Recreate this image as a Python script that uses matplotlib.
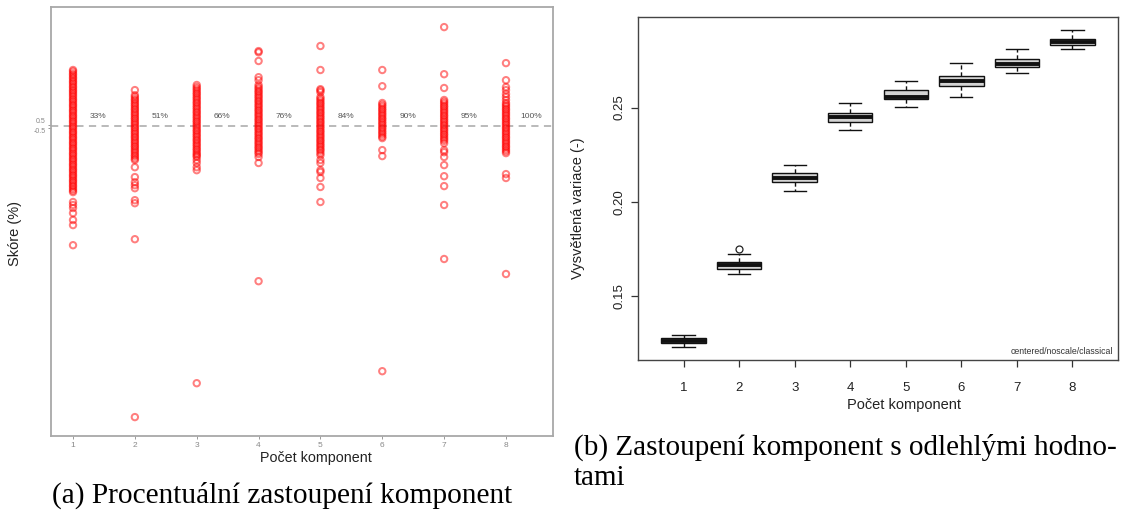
import matplotlib
matplotlib.use("Agg")
import matplotlib.pyplot as plt
import numpy as np

# ---------------- data ----------------
components = [1, 2, 3, 4, 5, 6, 7, 8]
cum_labels = ["33%", "51%", "66%", "76%", "84%", "90%", "95%", "100%"]

scores_1 = [18.7, 18.2, 17.5, 17.0, 16.3, 15.8, 15.1, 14.6, 14.0, 13.3, 12.8, 12.1, 11.6, 11.0,
            10.4, 9.8, 9.1, 8.6, 8.0, 7.3, 6.8, 6.2, 5.5, 5.0, 4.4, 3.7, 3.2, 2.6, 1.9, 1.4, 0.8,
            0.1, -0.4, -1.0, -1.7, -2.2, -2.8, -3.5, -4.0, -4.6, -5.3, -5.8, -6.4, -7.1, -7.6,
            -8.2, -8.9, -9.4, -10.0, -10.7, -11.2, -11.8, -12.5, -13.0, -13.6, -14.3, -14.8,
            -15.4, -16.1, -16.6, -17.2, -17.9, -18.4, -19.0, -19.7, -20.2, -20.9, -21.5, -22.0,
            -25.3, -26.3, -27.3, -29.0, -31.3, -33.0, -39.7]
scores_2 = [12.0, 10.3, 9.7, 9.0, 8.5, 7.8, 7.2, 6.6, 5.9, 5.4, 4.7, 4.1, 3.5, 2.8, 2.3, 1.6,
            1.0, 0.4, -0.3, -0.8, -1.5, -2.1, -2.7, -3.4, -3.9, -4.6, -5.2, -5.8, -6.5, -7.0,
            -7.7, -8.3, -8.9, -9.6, -10.1, -10.8, -11.3, -13.7, -17.0, -18.7, -19.7, -20.7,
            -24.7, -25.7, -37.7, -97.0]
scores_3 = [13.7, 13.0, 12.4, 11.8, 11.1, 10.6, 9.9, 9.3, 8.7, 8.0, 7.5, 6.8, 6.2, 5.6, 4.9,
            4.4, 3.7, 3.1, 2.5, 1.8, 1.3, 0.6, 0.0, -0.6, -1.3, -1.8, -2.5, -3.1, -3.7, -4.4,
            -4.9, -5.6, -6.2, -6.8, -7.5, -8.0, -8.7, -9.3, -9.8, -10.3, -11.3, -12.3, -13.7,
            -14.7, -85.7]
scores_4 = [25.0, 24.6, 21.7, 16.3, 15.3, 13.7, 13.0, 12.4, 11.7, 11.2, 10.5, 9.9, 9.3, 8.6,
            8.1, 7.4, 6.8, 6.2, 5.5, 5.0, 4.3, 3.7, 3.1, 2.4, 1.9, 1.2, 0.6, 0.0, -0.7, -1.2,
            -1.9, -2.5, -3.1, -3.8, -4.3, -5.0, -5.6, -6.2, -6.9, -7.4, -8.1, -8.7, -9.3, -10.3,
            -12.3, -51.7]
scores_5 = [26.7, 18.7, 12.3, 11.9, 11.3, 9.7, 9.1, 8.5, 7.8, 7.3, 6.6, 6.0, 5.4, 4.7, 4.2,
            3.5, 2.9, 2.3, 1.6, 1.1, 0.4, -0.2, -0.8, -1.5, -2.0, -2.7, -3.3, -3.9, -4.6, -5.1,
            -5.8, -6.4, -7.0, -7.7, -8.2, -9.0, -9.7, -11.3, -12.3, -14.7, -15.3, -17.3, -20.3,
            -25.3]
scores_6 = [18.7, 13.3, 7.7, 7.1, 6.5, 5.8, 5.3, 4.6, 4.0, 3.4, 2.7, 2.2, 1.5, 0.9, 0.3, -0.4,
            -0.9, -1.6, -2.2, -2.8, -3.5, -4.0, -8.0, -10.0, -81.7]
scores_7 = [33.0, 17.3, 12.7, 8.7, 8.1, 7.5, 6.8, 6.3, 5.6, 5.0, 4.4, 3.7, 3.2, 2.5, 1.9, 1.3,
            0.6, 0.1, -0.6, -1.2, -1.8, -2.5, -3.0, -3.7, -4.3, -4.9, -5.7, -8.0, -8.7, -10.3,
            -13.0, -16.7, -20.0, -26.3, -44.3]
scores_8 = [21.0, 15.3, 13.0, 12.0, 10.7, 9.7, 8.7, 7.7, 7.1, 6.5, 5.8, 5.3, 4.6, 4.0, 3.4,
            2.7, 2.2, 1.5, 0.9, 0.3, -0.4, -0.9, -1.6, -2.2, -2.8, -3.5, -4.0, -4.7, -5.3, -5.9,
            -6.6, -7.1, -7.8, -8.4, -9.0, -16.0, -17.3, -49.3]
scores = [scores_1, scores_2, scores_3, scores_4, scores_5, scores_6, scores_7, scores_8]

# explained variance per number of components (box statistics)
var_whislo = [0.1229, 0.1616, 0.2057, 0.2380, 0.2502, 0.2555, 0.2685, 0.2809]
var_q1 = [0.1250, 0.1643, 0.2103, 0.2422, 0.2546, 0.2615, 0.2717, 0.2832]
var_med = [0.1263, 0.1664, 0.2126, 0.2451, 0.2557, 0.2639, 0.2733, 0.2849]
var_q3 = [0.1276, 0.1684, 0.2151, 0.2472, 0.2594, 0.2669, 0.2758, 0.2865]
var_whishi = [0.1294, 0.1722, 0.2197, 0.2526, 0.2639, 0.2738, 0.2809, 0.2913]
var_fliers = [[], [0.1749], [], [], [], [], [], []]

# ---------------- figure ----------------
W, H = 1123, 511
fig = plt.figure(figsize=(W / 100, H / 100), dpi=100)
SANS = "Liberation Sans"
SERIF = "Liberation Serif"


def fx(px):
    return px / W


def fy(py):
    return 1 - py / H


# ---- (a) scores scatter ----
ax1 = fig.add_axes([fx(51), fy(436), (553 - 51) / W, (436 - 7) / H])
ax1.axhline(0, color="#b4b4b4", lw=1.3, ls=(0, (4, 3)), zorder=1)
for comp, vals in zip(components, scores):
    ax1.scatter(np.full(len(vals), comp), vals, s=21, facecolors="none",
                edgecolors="red", linewidths=1.45, alpha=0.5, zorder=2)
for comp, lab in zip(components, cum_labels):
    ax1.text(comp + 0.41, 3.3, lab, fontsize=6, color="#555555", family=SANS,
             ha="center", va="center")
ax1.set_xlim(0.644, 8.76)
ax1.set_ylim(-103.3, 39.7)
ax1.set_xticks(components)
ax1.set_xticklabels([str(c) for c in components], fontsize=6, color="#888888", family=SANS)
ax1.set_yticks([-0.5, 0.5])
ylabs = ax1.set_yticklabels(["-0.5", "0.5"], fontsize=5, color="#888888", family=SANS)
ylabs[0].set_va("top")
ylabs[1].set_va("bottom")
ax1.tick_params(axis="both", length=2.5, width=0.7, color="#999999", pad=1.5)
for sp in ax1.spines.values():
    sp.set_color("#a8a8a8")
    sp.set_linewidth(1.3)
fig.text(fx(15), fy(233), "Skóre (%)", rotation=90, fontsize=10.5, family=SANS,
         color="#222222", ha="center", va="center")
fig.text(fx(316), fy(458), "Počet komponent", fontsize=10.3, family=SANS,
         color="#222222", ha="center", va="center")

# ---- (b) explained variance boxplots ----
ax2 = fig.add_axes([fx(638), fy(360), (1118 - 638) / W, (360 - 17) / H])
stats = []
for i in range(len(components)):
    stats.append(dict(whislo=var_whislo[i], q1=var_q1[i], med=var_med[i],
                      q3=var_q3[i], whishi=var_whishi[i], fliers=var_fliers[i]))
ax2.bxp(stats, positions=components, widths=0.8, capwidths=0.4, patch_artist=True,
        boxprops=dict(facecolor="#d3d3d3", edgecolor="#111111", linewidth=1.0),
        medianprops=dict(color="#111111", linewidth=2.8),
        whiskerprops=dict(color="#111111", linewidth=1.0, linestyle=(0, (3, 2))),
        capprops=dict(color="#111111", linewidth=1.0),
        flierprops=dict(marker="o", markerfacecolor="none", markeredgecolor="#222222",
                        markersize=5, markeredgewidth=0.9))
ax2.set_xlim(0.18, 8.82)
ax2.set_ylim(0.1162, 0.2980)
ax2.set_xticks(components)
ax2.set_xticklabels([str(c) for c in components], fontsize=9.5, family=SANS, color="#222222")
ax2.set_yticks([0.15, 0.20, 0.25])
ax2.set_yticklabels(["0.15", "0.20", "0.25"], fontsize=9.5, family=SANS, color="#222222",
                    rotation=90, va="center")
ax2.tick_params(axis="x", length=5, width=0.9, color="#333333", pad=11)
ax2.tick_params(axis="y", length=5, width=0.9, color="#333333", pad=4)
for sp in ax2.spines.values():
    sp.set_color("#444444")
    sp.set_linewidth(1.0)
fig.text(fx(1113), fy(352), "centered/noscale/classical", fontsize=6.3, family=SANS,
         color="#333333", ha="right", va="center")
fig.text(fx(578), fy(208), "Vysvětlená variace (-)", rotation=90, fontsize=10.5,
         family=SANS, color="#222222", ha="center", va="center")
fig.text(fx(904), fy(405), "Počet komponent", fontsize=10.5, family=SANS,
         color="#222222", ha="center", va="center")

# ---- captions ----
fig.text(fx(52), fy(495), "(a) Procentuální zastoupení komponent", fontsize=21.2,
         family=SERIF, color="black", ha="left", va="center")
fig.text(fx(574), fy(447), "(b) Zastoupení komponent s odlehlými hodno-", fontsize=21.0,
         family=SERIF, color="black", ha="left", va="center")
fig.text(fx(574), fy(478), "tami", fontsize=21.0, family=SERIF, color="black",
         ha="left", va="center")

fig.savefig("out.png", dpi=100)
